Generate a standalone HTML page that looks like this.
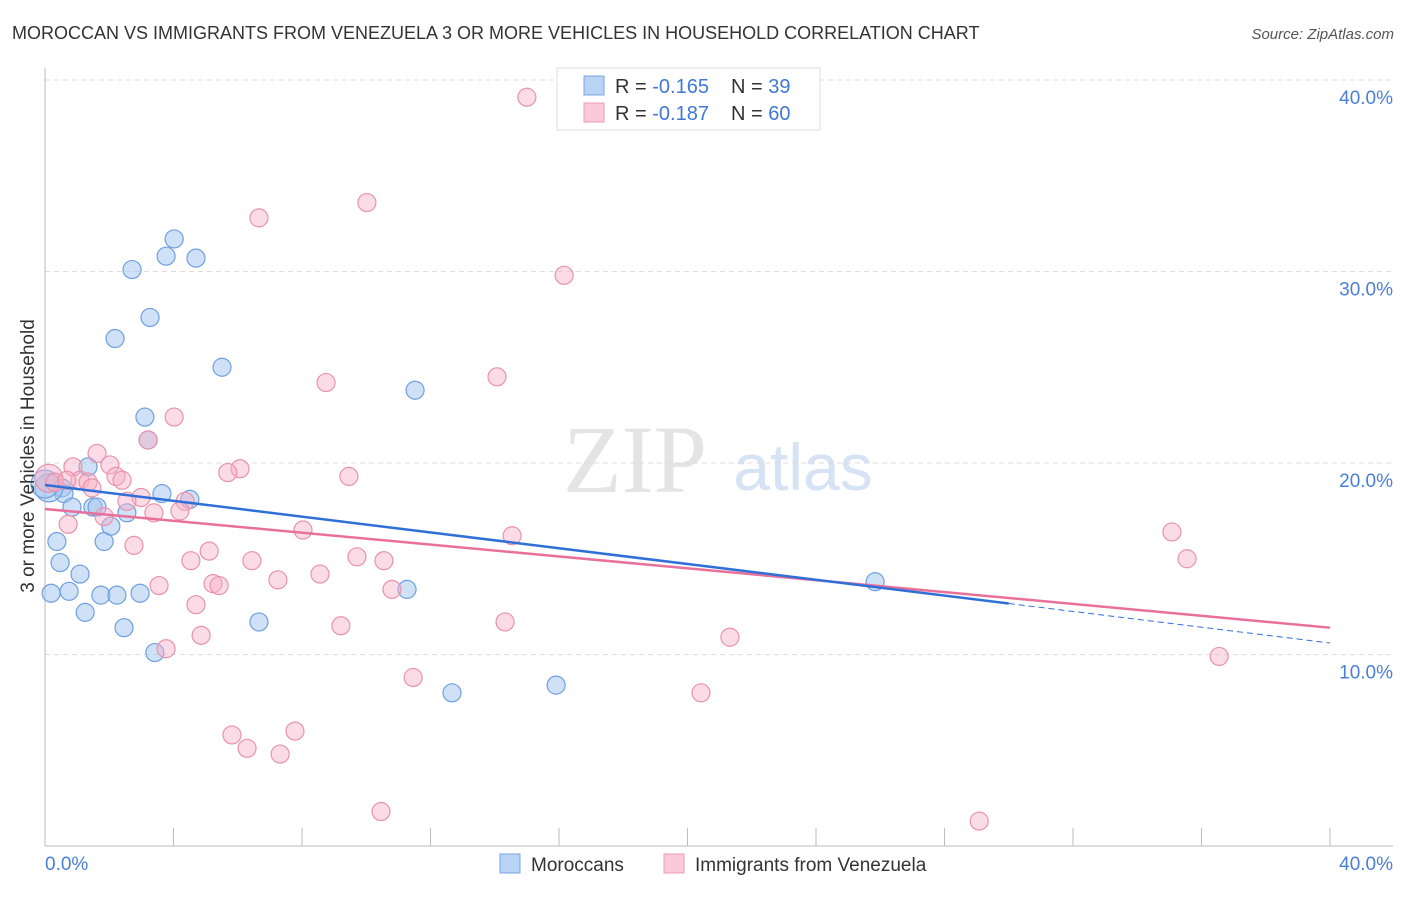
<!DOCTYPE html>
<html><head><meta charset="utf-8"><style>
body{margin:0;background:#fff;font-family:"Liberation Sans",sans-serif;}
</style></head><body>
<svg id="chart" width="1406" height="892" xmlns="http://www.w3.org/2000/svg">
<text x="12" y="39" font-size="18" fill="#333">MOROCCAN VS IMMIGRANTS FROM VENEZUELA 3 OR MORE VEHICLES IN HOUSEHOLD CORRELATION CHART</text>
<text x="1394" y="39" font-size="15" fill="#555" font-style="italic" text-anchor="end">Source: ZipAtlas.com</text>
<text x="635" y="492" font-size="96" fill="#e4e4e4" font-family="Liberation Serif,serif" text-anchor="middle">ZIP</text>
<text x="803" y="490" font-size="66" fill="#d6e3f5" text-anchor="middle">atlas</text>
<g id="grid"></g><g id="axes"></g><g id="pts"></g><g id="lines"></g>
<text transform="translate(34,456) rotate(-90)" font-size="19" fill="#333" text-anchor="middle">3 or more Vehicles in Household</text>
<text x="45" y="870" font-size="19" fill="#4a7fd8">0.0%</text>
<text x="1393" y="870" font-size="19" fill="#4a7fd8" text-anchor="end">40.0%</text>
<g>
<rect x="557" y="68" width="263" height="62" fill="#fff" stroke="#ddd"/>
<rect x="584" y="76" width="20" height="19" fill="#b9d3f5" stroke="#7aa6e4"/>
<rect x="584" y="103" width="20" height="19" fill="#fbc9d8" stroke="#ee9ab4"/>
<text x="615" y="93" font-size="20" fill="#333">R = <tspan fill="#3f78d6">-0.165</tspan><tspan x="731">N = </tspan><tspan fill="#3f78d6">39</tspan></text>
<text x="615" y="120" font-size="20" fill="#333">R = <tspan fill="#3f78d6">-0.187</tspan><tspan x="731">N = </tspan><tspan fill="#3f78d6">60</tspan></text>
</g>
<g>
<rect x="500" y="854" width="20" height="19" fill="#b9d3f5" stroke="#7aa6e4"/>
<text x="531" y="871" font-size="19" fill="#333">Moroccans</text>
<rect x="664" y="854" width="20" height="19" fill="#fbc9d8" stroke="#ee9ab4"/>
<text x="695" y="871" font-size="19" fill="#333">Immigrants from Venezuela</text>
</g>
</svg>
<script>
const yTicks=[10,20,30,40];
const yTickLabels=["10.0%","20.0%","30.0%","40.0%"];
const xTicks=[0,4,8,12,16,20,24,28,32,36,40];
const blueX=[0.19,0.37,0.47,0.53,0.59,0.75,0.84,1.09,1.25,1.34,1.49,1.62,1.74,1.84,2.05,2.18,2.24,2.46,2.55,2.71,2.96,3.11,3.21,3.27,3.42,3.64,3.77,4.02,4.51,4.70,5.51,6.66,11.27,11.52,12.67,15.91,25.84,0.12,0.0];
const blueY=[13.2,15.9,14.8,18.7,18.4,13.3,17.7,14.2,12.2,19.8,17.7,17.7,13.1,15.9,16.7,26.5,13.1,11.4,17.4,30.1,13.2,22.4,21.2,27.6,10.1,18.4,30.8,31.7,18.1,30.7,25.0,11.7,13.4,23.8,8.0,8.4,13.8,18.7,18.9];
const pinkX=[15.0,10.02,6.66,16.16,8.75,14.07,4.02,3.21,1.62,0.87,2.02,6.07,5.69,2.21,2.40,1.09,1.34,1.46,9.46,0.12,0.31,2.99,2.55,4.36,4.20,3.39,1.84,0.72,8.03,14.54,35.08,2.77,5.11,9.71,6.44,4.54,10.55,35.55,8.56,7.25,3.55,5.23,5.42,10.80,4.70,14.32,9.21,4.86,21.32,3.77,36.55,11.46,20.42,7.78,5.82,6.29,7.32,10.46,29.08,0.68];
const pinkY=[39.1,33.6,32.8,29.8,24.2,24.5,22.4,21.2,20.5,19.8,19.9,19.7,19.5,19.3,19.1,19.1,19.0,18.7,19.3,19.2,19.0,18.2,18.0,18.0,17.5,17.4,17.2,16.8,16.5,16.2,16.4,15.7,15.4,15.1,14.9,14.9,14.9,15.0,14.2,13.9,13.6,13.7,13.6,13.4,12.6,11.7,11.5,11.0,10.9,10.3,9.9,8.8,8.0,6.0,5.8,5.1,4.8,1.8,1.3,19.1];
const blueTrend=[18.85,10.6];
const pinkTrend=[17.6,11.4];
const NS="http://www.w3.org/2000/svg";
const sx=v=>45+v*(1285/40);
const sy=v=>846-v*19.15;
function mk(tag,attrs,parent){const e=document.createElementNS(NS,tag);for(const k in attrs)e.setAttribute(k,attrs[k]);document.getElementById(parent).appendChild(e);return e;}
yTicks.forEach((t,i)=>{
 const g=mk('line',{x1:45,x2:1393,y1:sy(t),y2:sy(t),stroke:'#ddd','stroke-dasharray':'5,4'},'grid');
 
 
 const l=mk('text',{x:1393,y:sy(t)+24,'font-size':19,fill:'#4a7fd8','text-anchor':'end'},'grid');
 l.textContent=yTickLabels[i];
 
 
});
const ax=mk('line',{x1:45,x2:45,y1:68,y2:846,stroke:'#bbb'},'axes');


const bx=mk('line',{x1:45,x2:1393,y1:846,y2:846,stroke:'#bbb'},'axes');


xTicks.forEach(t=>{
 const k=mk('line',{x1:sx(t),x2:sx(t),y1:828,y2:846,stroke:'#bbb'},'axes');
 
 
});
function pts(X,Y,fill,stroke,name){
 X.forEach((x,i)=>{
  const big=(x<0.15);
  const c=mk('circle',{cx:sx(x),cy:sy(Y[i]),r:big?14:9,fill:fill,stroke:stroke,'stroke-width':1.2},'pts');
  
  
 });
}
pts(blueX,blueY,'rgba(160,196,240,0.5)','#6f9fe0','moroccan-point');
pts(pinkX,pinkY,'rgba(246,176,198,0.45)','#e893ad','venezuela-point');
const bt=x=>blueTrend[0]+(blueTrend[1]-blueTrend[0])*x/40;
const pt=x=>pinkTrend[0]+(pinkTrend[1]-pinkTrend[0])*x/40;
const l1=mk('line',{x1:sx(0),y1:sy(pt(0)),x2:sx(40),y2:sy(pt(40)),stroke:'#e8709a','stroke-width':2.5},'lines');


const l2=mk('line',{x1:sx(0),y1:sy(bt(0)),x2:sx(30),y2:sy(bt(30)),stroke:'#2f6fd8','stroke-width':2.5},'lines');


const l3=mk('line',{x1:sx(30),y1:sy(bt(30)),x2:sx(40),y2:sy(bt(40)),stroke:'#2f6fd8','stroke-width':1,'stroke-dasharray':'6,4'},'lines');


</script>
</body></html>
